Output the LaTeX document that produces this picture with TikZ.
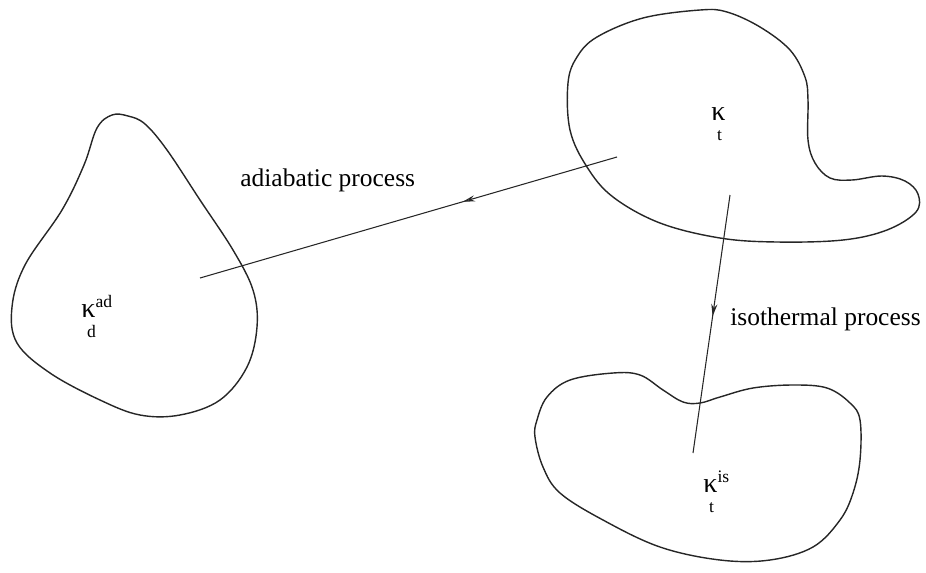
\documentclass[tikz,border=0pt]{standalone}
\usepackage{fontspec}
\setmainfont{Liberation Serif}
\usetikzlibrary{arrows.meta,decorations.markings}
\newcommand{\smallfnt}{\fontsize{10}{10}\selectfont}
\newcommand{\kapstack}[2]{κ\rlap{\raisebox{0.75ex}{\smallfnt #1}}\rlap{\kern-0.3em\raisebox{-1.55ex}{\smallfnt #2}}\phantom{\smallfnt #1}}
\tikzset{
  blob/.style={draw=black!85, line width=0.8pt},
  proc/.style={draw=black!85, line width=0.6pt},
  midarrow/.style={postaction={decorate},decoration={markings,
    mark=at position #1 with {\arrow{Stealth[length=7pt,width=3.5pt,open]}}}},
  lbl/.style={font=\fontsize{14.5}{16}\selectfont, inner sep=0pt},
  kap/.style={font=\fontsize{16}{17}\selectfont, inner sep=0pt}
}
\begin{document}
\begin{tikzpicture}[x=0.02cm,y=-0.02cm]
\useasboundingbox (0,0) rectangle (926,572);
% left blob
\draw[blob] plot[smooth cycle, tension=0.6] coordinates {
 (112,115) (128,116) (145,124) (167,150) (200,200) (233,250) (253,290) (257,327) (247,367)
 (220,400) (180,415) (140,415) (100,400) (50,373) (17,343) (12,307) (25,265)
 (62,210) (84,165) (97,128)};
% top-right blob
\draw[blob] plot[smooth cycle, tension=0.6] coordinates {
 (700,10) (727,12) (760,27) (790,50) (805,77) (808,100) (808,140) (815,163)
 (830,178) (852,180) (882,176) (905,181) (918,194) (916,212) (887,230) (843,240)
 (777,242) (720,238) (660,223) (613,197) (587,167) (570,130) (568,83) (577,57)
 (597,37) (643,18)};
% bottom-right blob
\draw[blob] plot[smooth cycle, tension=0.6] coordinates {
 (547,397) (570,380) (613,373) (640,375) (663,390) (683,402) (700,403) (720,397)
 (753,388) (793,385) (827,388) (850,403) (860,420) (860,460) (853,493) (840,520)
 (813,547) (770,560) (720,560) (660,547) (603,520) (560,493) (543,467) (535,437)
 (537,420)};
% labels
\node[kap, anchor=base west] (kt) at (711,120) {\kapstack{}{t}};
\node[kap, anchor=base west] (kad) at (81,317) {\kapstack{ad}{d}};
\node[kap, anchor=base west] (kis) at (703,492) {\kapstack{is}{t}};
\node[lbl, anchor=base west] (adl) at (240,186) {adiabatic process};
\node[lbl, anchor=base west] (isl) at (730,325) {isothermal process};
% process lines
\coordinate (a1) at (617,157);
\coordinate (a2) at (200,278);
\coordinate (b1) at (730,195);
\coordinate (b2) at (693,453);
\draw[proc, midarrow=0.37] (a1) -- (a2);
\draw[proc, midarrow=0.47] (b1) -- (b2);
\end{tikzpicture}
\end{document}
